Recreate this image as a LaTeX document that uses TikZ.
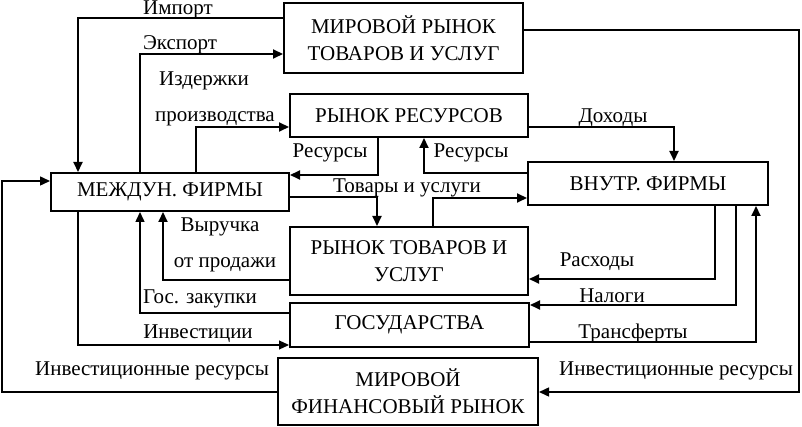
\documentclass[tikz,border=0pt]{standalone}
\usepackage{fontspec}
\setmainfont{Liberation Serif}
\usetikzlibrary{arrows.meta}
\begin{document}
\begin{tikzpicture}[x=1pt,y=-1pt,
  box/.style={draw,line width=2pt,align=center,inner sep=0pt,
    font=\fontsize{21}{27}\selectfont},
  lbl/.style={anchor=base,inner sep=0pt,font=\fontsize{21}{24}\selectfont},
  conn/.style={line width=2pt,-{Triangle[length=10pt,width=9pt]}},
  thinconn/.style={line width=1.2pt,-{Triangle[length=10pt,width=9pt]}},
  plain/.style={line width=1.5pt,-{Triangle[length=10pt,width=9pt]}}]
\useasboundingbox (0,0) rectangle (802,427);
% boxes
\node[box,minimum width=239pt,minimum height=70pt] (WM) at (403.5,38) {МИРОВОЙ РЫНОК\\ТОВАРОВ И УСЛУГ};
\node[box,minimum width=238pt,minimum height=43pt] (RR) at (409,115.5) {РЫНОК РЕСУРСОВ};
\node[box,minimum width=240pt,minimum height=43pt] (VF) at (648,183.5) {ВНУТР. ФИРМЫ};
\node[box,minimum width=238pt,minimum height=38pt] (MF) at (170,192) {МЕЖДУН. ФИРМЫ};
\node[box,minimum width=238pt,minimum height=68pt] (RT) at (409,261) {РЫНОК ТОВАРОВ И\\УСЛУГ};
\node[box,minimum width=239pt,minimum height=44pt] (GOV) at (409.5,325) {ГОСУДАРСТВА};
\node[box,minimum width=260pt,minimum height=67pt] (WF) at (408,391.5) {МИРОВОЙ\\ФИНАНСОВЫЙ РЫНОК};
% connectors
\draw[conn] (WM.west |- 0,18) -| (MF.north -| 78,0);
\draw[conn] (MF.north -| 140,0) |- (WM.west |- 0,54);
\draw[conn] (MF.north -| 196,0) |- (RR.west |- 0,127);
\draw[conn] (RR.south -| 378,0) |- (MF.east |- 0,175);
\draw[conn] (VF.west |- 0,173) -| (RR.south -| 424,0);
\draw[conn] (MF.east |- 0,197) -| (RT.north -| 377,0);
\draw[conn] (RT.north -| 433,0) |- (VF.west |- 0,198);
\draw[conn] (RR.east |- 0,127) -| (VF.north -| 674,0);
\draw[plain] (WM.east |- 0,30) -| (799,392) -- (WF.east |- 0,392);
\draw[conn] (VF.south -| 715,0) |- (RT.east |- 0,279);
\draw[conn] (VF.south -| 736,0) |- (GOV.east |- 0,305);
\draw[conn] (GOV.east |- 0,342) -| (VF.south -| 756,0);
\draw[conn] (RT.west |- 0,280) -| (MF.south -| 163,0);
\draw[plain] (GOV.west |- 0,313) -| (MF.south -| 140,0);
\draw[thinconn] (MF.south -| 78,0) |- (GOV.west |- 0,345);
\draw[plain] (WF.west |- 0,392) -| (2,181) -- (MF.west |- 0,181);
% labels
\node[lbl] (l1) at (178,15) {Импорт};
\node[lbl] (l2) at (180,50) {Экспорт};
\node[lbl] (l3) at (204,86) {Издержки};
\node[lbl] (l4) at (215,122) {производства};
\node[lbl] (l5) at (330,158) {Ресурсы};
\node[lbl] (l6) at (471,158) {Ресурсы};
\node[lbl] (l7) at (407,193) {Товары и услуги};
\node[lbl] (l8) at (613,123) {Доходы};
\node[lbl] (l9) at (220,232) {Выручка};
\node[lbl] (l10) at (225,268) {от продажи};
\node[lbl] (l11) at (597,267) {Расходы};
\node[lbl] (l12) at (612,302) {Налоги};
\node[lbl] (l13) at (633,338) {Трансферты};
\node[lbl] (l14) at (676,375) {Инвестиционные ресурсы};
\node[lbl] (l15) at (200,303) {Гос. закупки};
\node[lbl] (l16) at (198,338) {Инвестиции};
\node[lbl] (l17) at (152,375) {Инвестиционные ресурсы};
\end{tikzpicture}
\end{document}
